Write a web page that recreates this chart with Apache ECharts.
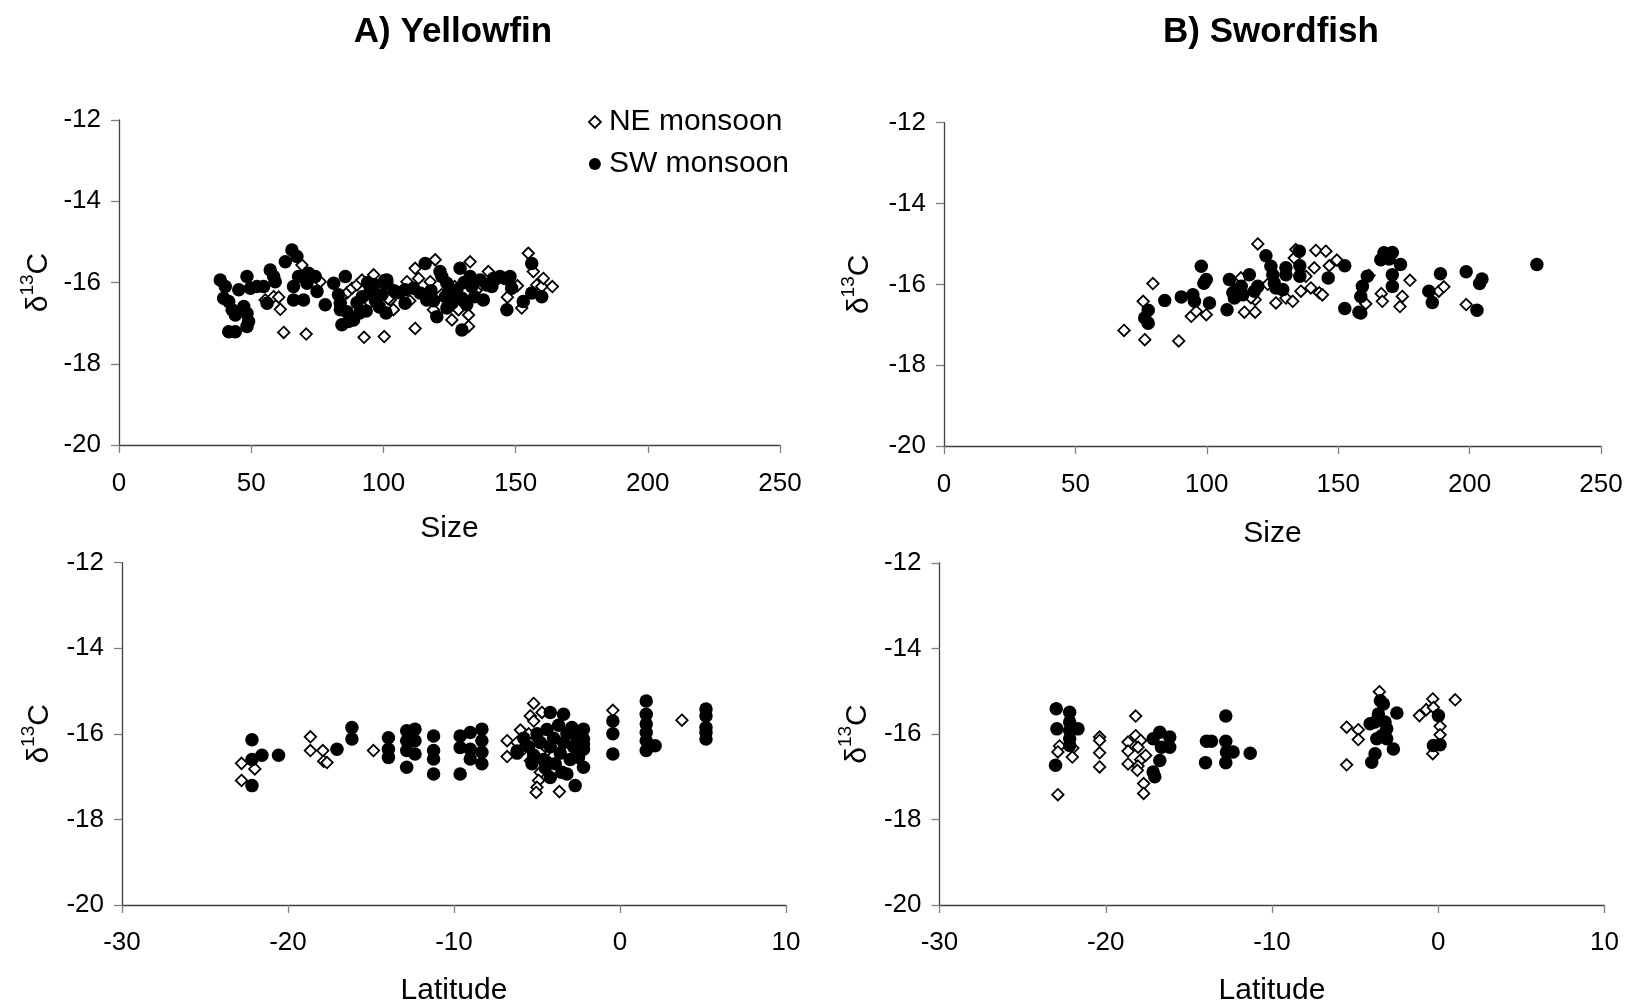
<!DOCTYPE html>
<html>
<head>
<meta charset="utf-8">
<script src="https://cdn.jsdelivr.net/npm/echarts@6/dist/echarts.min.js"></script>
<style>
html,body{margin:0;padding:0;background:#fff;}
#main{width:1627px;height:1007px;}
</style>
</head>
<body>
<div id="main"></div>
<script>
// ---- Data ----
var panelTitles = ['A) Yellowfin', 'B) Swordfish'];
var seriesNames = ['NE monsoon', 'SW monsoon'];
var sizeTicks = [0, 50, 100, 150, 200, 250];
var latTicks = [-30, -20, -10, 0, 10];
var d13cTicks = [-20, -18, -16, -14, -12];

// Yellowfin: size vs d13C
var yfSizeNE = [[55.3,-16.43],[58.5,-16.35],[60.4,-16.36],[61,-16.66],[62.3,-17.23],[69.2,-15.57],[70.8,-17.27],[76.1,-15.98],
 [86.2,-16.26],[88.1,-16.14],[90,-16.06],[91.9,-15.94],[96.3,-15.81],[92.7,-17.35],[100.3,-17.33],[102.6,-16.43],[103.8,-16.67],
 [108.9,-15.98],[112,-15.65],[113.3,-15.9],[117.7,-15.98],[119.6,-15.44],[112,-17.13],[118.9,-16.67],[125.9,-16.92],[128.4,-16.67],
 [132.2,-16.8],[132.2,-17.08],[132.8,-15.49],[139.7,-15.73],[146.9,-16.36],[150.7,-16.08],[152.3,-16.63],[154.8,-15.28],[156.7,-15.73],
 [158,-16.06],[159.9,-16.1],[160.5,-15.9],[163.9,-16.1],[110,-16.45],[122,-16.3],[127,-16.1],[135,-16.2],[142,-16.0],[98,-16.2],
 [95,-16.5],[84,-16.35],[101.8,-16.4]];
var yfSizeSW = [[38.3,-15.94],[40.2,-16.1],[39.6,-16.39],[41.5,-16.47],[42.8,-16.67],[44,-16.8],[41.5,-17.21],[44,-17.21],[45.3,-16.18],
 [48.4,-15.85],[47.2,-16.59],[48.4,-16.76],[49,-16.96],[48.4,-17.08],[49.7,-16.14],[52.2,-16.1],[54.7,-16.1],[56,-16.51],[57.2,-15.69],
 [58.5,-15.85],[59.1,-15.98],[62.9,-15.49],[65.4,-15.2],[67.3,-15.36],[66,-16.1],[66,-16.43],[67.9,-15.85],[69.8,-16.43],[71.7,-15.77],
 [71.1,-16.02],[74.2,-15.85],[74.9,-16.22],[78,-16.55],[81.2,-16.02],[83,-16.3],[83.7,-16.51],[83.7,-16.67],[85.6,-15.85],[84.3,-17.04],
 [86.8,-16.96],[88.7,-16.92],[86.2,-16.72],[90,-16.5],[92,-16.35],[93.5,-16.7],[95,-16.2],[96.5,-16.05],[97,-16.45],[98.5,-16.6],
 [99.5,-16.3],[100.5,-15.95],[101,-16.75],[94,-16.0],[91,-16.75],[101.3,-15.94],[101.3,-16.02],[108.2,-16.18],[108.2,-16.51],
 [111.4,-16.14],[113.9,-16.26],[116.4,-16.43],[120.2,-16.84],[115.8,-15.53],[121.4,-15.73],[122.1,-15.85],[124,-16.02],[125.2,-16.18],
 [123.4,-16.35],[125.9,-16.51],[124,-16.63],[129,-15.65],[129.7,-17.17],[127.8,-16.18],[129.7,-16.39],[131.5,-16.55],[132.8,-15.85],
 [133.4,-16.1],[136.6,-15.94],[137.8,-16.43],[139.1,-16.06],[141.6,-15.9],[144.1,-15.85],[146,-15.9],[147.9,-15.85],[148.5,-16.14],
 [146.7,-16.67],[152.9,-16.47],[156.1,-16.26],[159.9,-16.35],[156.1,-15.53],[141,-16.1],[118,-16.2],[119,-16.45],[126.5,-16.35],
 [130.5,-16.0],[134.5,-16.35],[104,-16.2],[106,-16.25]];

// Swordfish: size vs d13C
var sfSizeNE = [[68.5,-17.14],[76.4,-17.37],[89.3,-17.4],[75.8,-16.42],[79.5,-15.98],[94.1,-16.79],[96,-16.67],[99.8,-16.75],[113,-15.84],
 [114.3,-16.69],[118.4,-16.69],[118.4,-16.38],[119.4,-15.0],[123.2,-16.0],[126.3,-16.46],[130.1,-16.34],[132.7,-16.42],[133.9,-15.14],
 [133.3,-15.35],[135.8,-16.17],[137.7,-15.8],[140.9,-15.59],[141.5,-15.16],[145.3,-15.18],[139.6,-16.09],[142.8,-16.21],[144,-16.26],
 [146.6,-15.54],[149.5,-15.4],[161.7,-15.78],[160.5,-16.48],[177.3,-15.9],[166.4,-16.23],[166.8,-16.42],[174.4,-16.3],[173.5,-16.55],
 [188.3,-16.17],[190.2,-16.06],[198.7,-16.5],[116.8,-16.33]];
var sfSizeSW = [[77.7,-16.64],[76.4,-16.83],[77.7,-16.96],[84,-16.4],[90.3,-16.31],[94.7,-16.26],[95.3,-16.42],[97.9,-15.55],[99.8,-15.88],
 [98.9,-15.97],[101,-16.46],[107.7,-16.63],[108.6,-15.88],[109.9,-16.21],[111.2,-16.13],[113.1,-16.05],[113.7,-16.26],[110.5,-16.34],
 [116.2,-15.76],[118.1,-16.17],[119.4,-16.05],[122.5,-15.29],[124.4,-15.55],[125.1,-15.76],[125.7,-15.97],[126.3,-16.09],[128.9,-16.13],
 [130.1,-15.59],[130.1,-15.76],[135.2,-15.18],[135.4,-15.54],[135.4,-15.8],[146.2,-15.84],[152.5,-15.54],[152.5,-16.6],[157.9,-16.69],
 [158.6,-16.3],[159.2,-16.05],[161.1,-15.8],[166.2,-15.39],[167.4,-15.22],[170.6,-15.21],[169.4,-15.37],[173.7,-15.51],[170.6,-15.76],
 [170.6,-16.05],[158.6,-16.71],[188.9,-15.74],[184.5,-16.17],[185.8,-16.45],[198.7,-15.69],[204.7,-15.87],[203.8,-15.98],[202.8,-16.64],
 [225.6,-15.51]];

// Yellowfin: latitude vs d13C
var yfLatNE = [[-22.8,-16.69],[-22.0,-16.82],[-22.8,-17.09],[-18.65,-16.07],[-18.65,-16.39],[-17.9,-16.39],[-17.85,-16.64],[-17.65,-16.67],
 [-14.85,-16.39],[-6.8,-16.16],[-6.8,-16.53],[-6.0,-15.91],[-5.2,-15.29],[-4.7,-15.5],[-5.4,-15.58],[-5.2,-15.7],[-5.4,-16.63],[-4.8,-16.9],
 [-4.9,-17.09],[-5.0,-17.25],[-5.05,-17.37],[-3.65,-17.35],[-0.43,-15.45],[3.73,-15.68],[-5.5,-16.0],[-5.0,-16.1],[-4.5,-16.3],
 [-6.2,-16.2],[-4.0,-16.5],[-5.8,-16.35]];
var yfLatSW = [[-22.17,-16.14],[-22.17,-16.6],[-21.57,-16.5],[-20.57,-16.5],[-22.17,-17.21],[-17.05,-16.36],[-16.15,-15.85],[-16.15,-16.12],
 [-13.95,-16.09],[-13.95,-16.36],[-13.95,-16.55],[-12.85,-15.93],[-12.85,-16.16],[-12.85,-16.39],[-12.85,-16.78],[-12.35,-15.89],
 [-12.35,-16.16],[-12.35,-16.47],[-11.23,-16.05],[-11.23,-16.39],[-11.23,-16.59],[-11.23,-16.94],[-9.63,-16.05],[-9.63,-16.32],
 [-9.63,-16.94],[-9.02,-15.97],[-9.02,-16.36],[-9.02,-16.59],[-8.32,-15.89],[-8.32,-16.16],[-8.32,-16.43],[-8.32,-16.7],
 [-6.2,-16.4],[-6.2,-16.45],[-4.2,-15.5],[-3.4,-15.54],[-4.2,-17.02],[-3.2,-16.94],[-2.7,-17.21],[-2.2,-15.89],[-2.2,-16.24],
 [-2.2,-16.78],[-2.2,-16.12],[-2.2,-16.36],[-5.8,-16.1],[-5.5,-16.3],[-5.2,-16.5],[-5.0,-16.0],[-4.8,-16.2],[-4.6,-16.6],[-4.4,-15.9],
 [-4.2,-16.3],[-4.0,-16.1],[-3.9,-16.7],[-3.7,-15.8],[-3.6,-16.45],[-3.4,-16.2],[-3.2,-16.0],[-3.0,-16.6],[-2.9,-15.85],[-2.8,-16.3],
 [-4.5,-16.8],[-3.5,-16.9],[-5.3,-16.7],[-2.5,-16.55],[-2.6,-16.1],[-0.43,-15.7],[-0.43,-16.0],[-0.43,-16.47],[1.58,-15.23],
 [1.58,-15.54],[1.58,-15.77],[1.58,-15.97],[1.58,-16.16],[1.58,-16.39],[2.12,-16.28],[5.18,-15.42],[5.18,-15.58],[5.18,-15.85],
 [5.18,-15.97],[5.18,-16.12]];

// Swordfish: latitude vs d13C
var sfLatNE = [[-22.78,-16.28],[-22.88,-16.42],[-21.98,-16.33],[-22.01,-16.54],[-22.88,-17.42],[-20.37,-16.07],[-20.37,-16.15],
 [-20.37,-16.44],[-20.37,-16.77],[-18.2,-15.58],[-18.2,-16.04],[-17.9,-16.15],[-18.66,-16.19],[-18.66,-16.4],[-18.06,-16.31],
 [-17.9,-16.6],[-17.6,-16.5],[-18.66,-16.7],[-18.06,-16.75],[-18.1,-16.85],[-17.72,-17.16],[-17.72,-17.39],[-5.51,-15.84],
 [-4.81,-15.9],[-4.81,-16.13],[-5.51,-16.72],[-3.54,-15.01],[-1.13,-15.57],[-0.72,-15.43],[-0.33,-15.18],[-0.29,-15.38],
 [0.11,-15.82],[0.11,-16.02],[-0.33,-16.46],[1.02,-15.2]];
var sfLatSW = [[-22.98,-15.41],[-22.94,-15.88],[-23.02,-16.73],[-22.17,-15.49],[-22.17,-15.72],[-22.17,-15.92],[-22.17,-16.11],
 [-22.17,-16.27],[-21.67,-15.88],[-16.75,-15.96],[-17.15,-16.11],[-16.15,-16.07],[-16.65,-16.31],[-16.15,-16.31],[-16.75,-16.62],
 [-17.15,-16.89],[-17.05,-17.0],[-12.78,-15.58],[-13.94,-16.17],[-13.64,-16.17],[-12.78,-16.17],[-12.74,-16.42],[-12.34,-16.42],
 [-14.0,-16.67],[-12.78,-16.67],[-11.31,-16.45],[-3.48,-15.22],[-3.3,-15.3],[-3.6,-15.53],[-2.49,-15.51],[-4.1,-15.76],
 [-3.8,-15.72],[-3.2,-15.72],[-3.1,-15.88],[-3.4,-16.04],[-3.7,-16.11],[-3.1,-16.11],[-2.7,-16.35],[-3.8,-16.46],[-4.0,-16.66],
 [0.01,-15.57],[-0.29,-16.27],[0.11,-16.25]];

// ---- Chart ----
var FONT = '"Liberation Sans", Arial, sans-serif';
var chart = echarts.init(document.getElementById('main'), null, {renderer: 'canvas'});

var grids = [
  {left: 119, top: 120, width: 661, height: 325},
  {left: 944, top: 122.7, width: 657, height: 323.3},
  {left: 122, top: 562.7, width: 664, height: 343},
  {left: 939.5, top: 563, width: 665, height: 343}
];

function mkX(i, ticks, name, nameGap, labelMargin) {
  return {
    gridIndex: i, type: 'value', min: ticks[0], max: ticks[ticks.length - 1],
    interval: ticks[1] - ticks[0],
    name: name, nameLocation: 'middle', nameGap: nameGap,
    nameTextStyle: {fontFamily: FONT, fontSize: 30, color: '#000'},
    axisLine: {show: true, onZero: false, lineStyle: {color: '#404040', width: 1.3}},
    axisTick: {show: true, inside: false, length: 8, lineStyle: {color: '#808080', width: 1.3}},
    axisLabel: {fontFamily: FONT, fontSize: 26, color: '#000', margin: labelMargin},
    splitLine: {show: false}
  };
}
function mkY(i, nameGap) {
  return {
    gridIndex: i, type: 'value', min: d13cTicks[0], max: d13cTicks[d13cTicks.length - 1],
    interval: d13cTicks[1] - d13cTicks[0],
    name: '{d|δ}{s|13}{c|C}', nameLocation: 'middle', nameGap: nameGap, nameRotate: 90,
    nameTextStyle: {
      fontFamily: FONT, color: '#000',
      rich: {
        d: {fontFamily: FONT, fontSize: 30, color: '#000', lineHeight: 36, verticalAlign: 'bottom'},
        s: {fontFamily: FONT, fontSize: 19, color: '#000', lineHeight: 36, verticalAlign: 'top'},
        c: {fontFamily: FONT, fontSize: 30, color: '#000', lineHeight: 36, verticalAlign: 'bottom'}
      }
    },
    axisLine: {show: true, onZero: false, lineStyle: {color: '#404040', width: 1.3}},
    axisTick: {show: true, inside: false, length: 8, lineStyle: {color: '#808080', width: 1.3}},
    axisLabel: {fontFamily: FONT, fontSize: 26, color: '#000', margin: 18},
    splitLine: {show: false}
  };
}

var neStyle = {color: '#fff', borderColor: '#000', borderWidth: 1.8, opacity: 1};
var swStyle = {color: '#000', borderColor: '#000', borderWidth: 0, opacity: 1};

function ne(i, data) {
  return {name: seriesNames[0], type: 'scatter', xAxisIndex: i, yAxisIndex: i, data: data,
    symbol: 'diamond', symbolSize: 11.5, itemStyle: neStyle, z: 2, silent: true, animation: false};
}
function sw(i, data) {
  return {name: seriesNames[1], type: 'scatter', xAxisIndex: i, yAxisIndex: i, data: data,
    symbol: 'circle', symbolSize: 13.5, itemStyle: swStyle, z: 3, silent: true, animation: false};
}

chart.setOption({
  backgroundColor: '#fff',
  animation: false,
  title: [
    {text: panelTitles[0], left: 448, top: 10, textAlign: 'center',
     textStyle: {fontFamily: FONT, fontSize: 35, fontWeight: 'bold', color: '#000'}},
    {text: panelTitles[1], left: 1266, top: 10, textAlign: 'center',
     textStyle: {fontFamily: FONT, fontSize: 35, fontWeight: 'bold', color: '#000'}}
  ],
  legend: {
    data: [
      {name: seriesNames[0], icon: 'diamond', itemStyle: neStyle},
      {name: seriesNames[1], icon: 'circle', itemStyle: swStyle}
    ],
    orient: 'vertical', left: 583, top: 102, itemWidth: 12, itemHeight: 12, itemGap: 12,
    selectedMode: false,
    textStyle: {fontFamily: FONT, fontSize: 30, color: '#000', padding: [0, 0, 0, 3]}
  },
  grid: grids,
  xAxis: [
    mkX(0, sizeTicks, 'Size', 69, 26),
    mkX(1, sizeTicks, 'Size', 73, 26),
    mkX(2, latTicks, 'Latitude', 71, 25),
    mkX(3, latTicks, 'Latitude', 71, 25)
  ],
  yAxis: [mkY(0, 65), mkY(1, 69), mkY(2, 67), mkY(3, 67)],
  series: [
    ne(0, yfSizeNE), sw(0, yfSizeSW),
    ne(1, sfSizeNE), sw(1, sfSizeSW),
    ne(2, yfLatNE), sw(2, yfLatSW),
    ne(3, sfLatNE), sw(3, sfLatSW)
  ]
});
</script>
</body>
</html>
